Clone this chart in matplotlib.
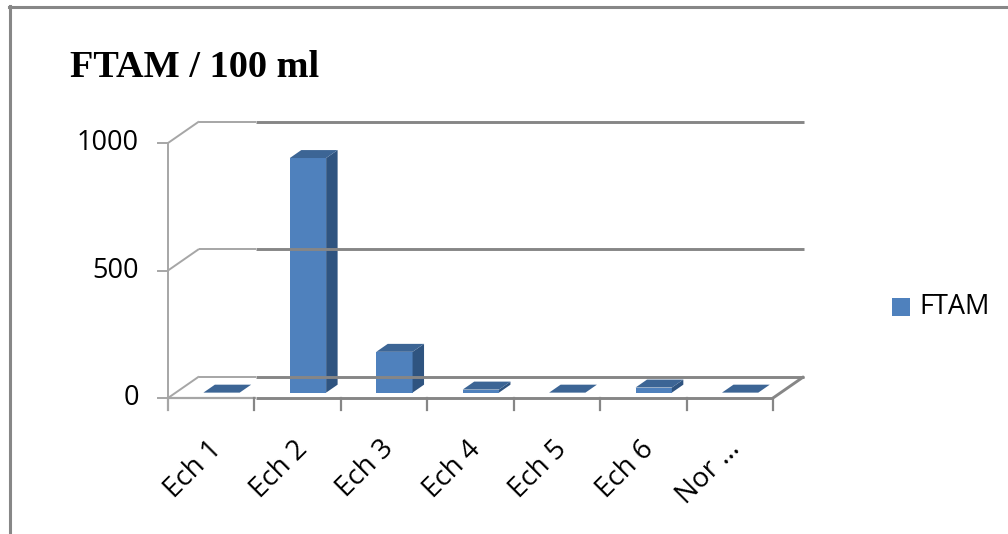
import matplotlib
matplotlib.use("Agg")
import matplotlib.pyplot as plt
from matplotlib.patches import Polygon, Rectangle
from matplotlib.lines import Line2D

# ---- data ----
categories = ["Ech 1", "Ech 2", "Ech 3", "Ech 4", "Ech 5", "Ech 6", "Nor …"]
ftam = [0, 920, 160, 12, 0, 20, 0]
y_ticks = [0, 500, 1000]
series_name = "FTAM"
title = "FTAM / 100 ml"

# ---- styling ----
FRONT = "#4F81BD"
TOP = "#3C6595"
SIDE = "#2F5480"
GRID_DARK = "#868686"
GRID_LIGHT = "#A6A6A6"
TEXT_FONT = ["Open Sans", "DejaVu Sans"]

W, H, DPI = 1008, 534, 100
fig = plt.figure(figsize=(W / DPI, H / DPI), dpi=DPI)
fig.patch.set_facecolor("white")

# plot area geometry (pixels) -> axes limits in category / value units
X0_PX, Y0_PX = 168.0, 398.0
PX_PER_CAT = 86.43
PX_PER_UNIT = 0.255
ax = fig.add_axes([0, 0, 1, 1])
ax.set_xlim((0 - X0_PX) / PX_PER_CAT, (W - X0_PX) / PX_PER_CAT)
ax.set_ylim((Y0_PX - H) / PX_PER_UNIT, Y0_PX / PX_PER_UNIT)
ax.axis("off")

n = len(categories)
DX = 31.0 / PX_PER_CAT      # oblique depth offset in category units
DY = 21.5 / PX_PER_UNIT     # oblique depth offset in value units
ymax = y_ticks[-1]

# back wall gridlines and left side wall
for v in y_ticks:
    ax.plot([0, DX], [v, v + DY], color=GRID_LIGHT, lw=1.4, solid_capstyle="butt")
    ax.plot([DX, 1.02], [v + DY, v + DY], color=GRID_LIGHT, lw=1.4, solid_capstyle="butt")
    ax.plot([1.02, n + DX], [v + DY, v + DY], color=GRID_DARK, lw=2.1, solid_capstyle="butt")

# floor front edge and right edge
ax.plot([0, 1.02], [0, 0], color=GRID_LIGHT, lw=1.6, solid_capstyle="butt")
ax.plot([1.02, n], [0, 0], color=GRID_DARK, lw=2.1, solid_capstyle="butt")
ax.plot([n, n + DX], [0, DY], color=GRID_DARK, lw=2.1, solid_capstyle="butt")

# value axis
ax.plot([0, 0], [0, ymax], color=GRID_LIGHT, lw=1.4)
tick_cat = 10.0 / PX_PER_CAT
for v in y_ticks:
    ax.plot([-tick_cat, 0], [v, v], color=GRID_LIGHT, lw=1.4)
    ax.text(-29.0 / PX_PER_CAT, v, f"{v}", ha="right", va="center",
            fontsize=19.5, family=TEXT_FONT, color="black")

# category ticks
tick_val = 12.0 / PX_PER_UNIT
for k in range(n + 1):
    c = GRID_LIGHT if k == 0 else GRID_DARK
    ax.plot([k, k], [0, -tick_val], color=c, lw=1.6)

# 3D-style bars
F1, F2 = 0.25, 0.62
BAR_OFF, BAR_W = 0.32, 0.42
for k, v in enumerate(ftam):
    x0 = k + BAR_OFF
    x1 = x0 + BAR_W
    a = (F1 * DX, F1 * DY)
    b = (F2 * DX, F2 * DY)
    if v > 0:
        ax.add_patch(Polygon([(x0 + a[0], a[1]), (x1 + a[0], a[1]),
                              (x1 + a[0], v + a[1]), (x0 + a[0], v + a[1])],
                             closed=True, facecolor=FRONT, edgecolor="none"))
        ax.add_patch(Polygon([(x1 + a[0], a[1]), (x1 + b[0], b[1]),
                              (x1 + b[0], v + b[1]), (x1 + a[0], v + a[1])],
                             closed=True, facecolor=SIDE, edgecolor="none"))
    ax.add_patch(Polygon([(x0 + a[0], v + a[1]), (x1 + a[0], v + a[1]),
                          (x1 + b[0], v + b[1]), (x0 + b[0], v + b[1])],
                         closed=True, facecolor=TOP, edgecolor="none"))

# category labels
label_y = (Y0_PX - 445.0) / PX_PER_UNIT
for k, name in enumerate(categories):
    ax.text(k + 0.5 + 6.0 / PX_PER_CAT, label_y, name, rotation=45,
            rotation_mode="anchor", ha="right", va="center",
            fontsize=20, family=TEXT_FONT, color="black")

# title
fig.text(70 / W, 1 - 77 / H, title, ha="left", va="baseline",
         fontsize=27.5, fontweight="bold", family=["Liberation Serif", "DejaVu Serif"])

# legend
fig.add_artist(Rectangle((892 / W, 1 - 316 / H), 18 / W, 18 / H,
                         transform=fig.transFigure, facecolor=FRONT, edgecolor="none"))
fig.text(919 / W, 1 - 307 / H, series_name, ha="left", va="center",
         fontsize=19.5, family=TEXT_FONT, color="black")

# chart frame
fig.add_artist(Line2D([9 / W, 1], [1 - 7 / H, 1 - 7 / H], transform=fig.transFigure,
                      color="#878787", lw=2.2))
fig.add_artist(Line2D([10 / W, 10 / W], [0, 1 - 6 / H], transform=fig.transFigure,
                      color="#878787", lw=2.2))

fig.savefig("out.png", dpi=DPI, facecolor="white")
